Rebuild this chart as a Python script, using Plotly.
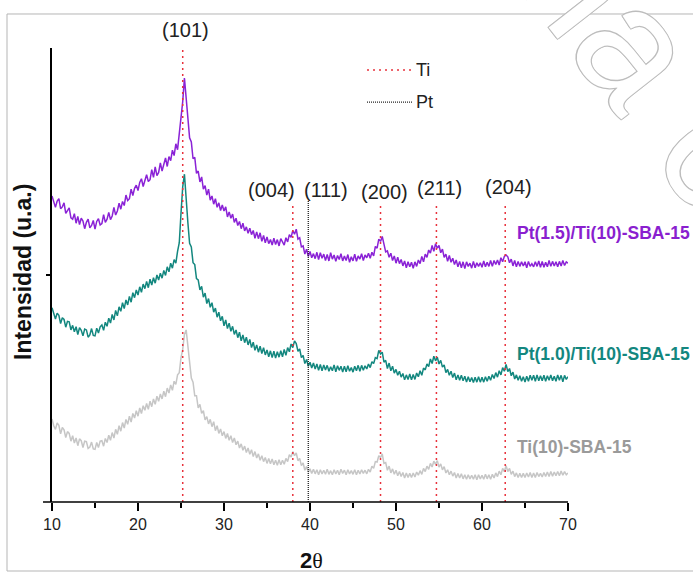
import numpy as np
import plotly.graph_objects as go

# XRD scan: 2-theta from 10 to 70 degrees, 0.2 degree step
ANGLE_START = 10.0
ANGLE_STEP = 0.2

# Intensity (arbitrary units, vertically offset per sample)
pt15_ti10 = [
    67.4, 66.0, 64.9, 66.3, 66.8, 64.6, 65.0, 65.9, 63.6, 64.2,
    64.8, 62.6, 62.3, 63.5, 61.4, 62.9, 61.1, 62.5, 61.9, 60.2,
    61.6, 62.3, 60.4, 60.9, 62.0, 60.1, 61.8, 62.4, 61.0, 61.3,
    63.3, 61.6, 62.3, 63.8, 62.2, 63.0, 64.9, 63.2, 64.1, 65.8,
    64.5, 66.2, 65.3, 67.6, 66.4, 66.8, 68.9, 67.5, 69.1, 69.8,
    68.6, 70.4, 71.2, 69.5, 70.9, 72.1, 70.6, 71.0, 73.2, 71.5,
    73.8, 71.9, 72.6, 74.7, 72.9, 74.4, 75.8, 73.9, 76.1, 75.2,
    77.5, 76.3, 78.9, 77.6, 81.2, 83.6, 88.2, 93.4, 89.0, 85.8,
    80.2, 79.3, 75.6, 75.9, 72.4, 72.9, 70.5, 71.6, 68.9, 69.7,
    67.6, 68.9, 66.5, 67.4, 65.6, 66.8, 64.9, 65.9, 64.2, 65.4,
    64.1, 65.0, 62.8, 63.9, 62.5, 63.4, 61.6, 62.5, 60.9, 61.8,
    60.2, 61.4, 59.7, 60.6, 59.2, 60.3, 58.9, 59.8, 58.1, 59.5,
    58.0, 59.3, 57.4, 58.7, 57.1, 58.4, 56.9, 57.8, 56.6, 58.1,
    56.7, 57.8, 56.4, 58.0, 57.1, 56.6, 58.2, 57.3, 58.9, 58.3,
    59.8, 59.0, 60.1, 57.9, 58.2, 56.2, 56.4, 54.6, 55.7, 54.1,
    55.2, 53.8, 54.7, 53.6, 55.0, 53.4, 54.9, 53.7, 54.6, 53.2,
    54.5, 53.1, 54.9, 53.5, 54.4, 53.0, 54.3, 53.4, 54.7, 53.1,
    54.2, 53.2, 54.5, 52.8, 54.0, 53.1, 54.6, 53.0, 54.2, 53.5,
    54.7, 53.2, 54.4, 53.8, 54.8, 53.7, 55.0, 54.2, 56.3, 55.9,
    57.9, 57.4, 58.5, 56.9, 55.1, 55.3, 53.9, 54.8, 53.2, 54.2,
    52.6, 53.9, 52.5, 53.4, 52.0, 53.1, 51.6, 52.9, 51.8, 52.8,
    51.5, 52.9, 51.9, 53.3, 52.5, 54.1, 52.9, 54.6, 53.9, 55.5,
    54.8, 56.5, 55.2, 56.9, 55.9, 56.5, 54.9, 55.7, 53.9, 54.6,
    53.0, 54.3, 52.8, 53.7, 52.3, 53.3, 51.8, 53.0, 51.6, 52.9,
    51.4, 52.9, 51.9, 52.6, 51.5, 53.0, 51.6, 52.7, 51.9, 52.7,
    51.7, 53.1, 51.8, 52.8, 51.9, 53.2, 51.9, 53.2, 52.3, 53.3,
    52.2, 53.8, 52.9, 54.1, 54.4, 54.0, 52.7, 53.5, 52.0, 53.2,
    51.8, 53.0, 51.9, 52.9, 52.0, 52.9, 51.6, 53.0, 51.9, 52.5,
    51.8, 52.9, 51.9, 53.1, 51.7, 53.0, 51.7, 52.8, 51.8, 53.2,
    51.9, 53.0, 52.0, 52.9, 51.8, 53.0, 52.0, 53.2, 52.1, 52.9,
    52.6,
]

pt10_ti10 = [
    42.8, 41.2, 40.3, 41.6, 41.1, 39.3, 40.6, 40.2, 38.5, 39.8,
    39.7, 37.9, 38.9, 37.5, 38.6, 36.9, 38.4, 37.8, 36.6, 38.1,
    37.9, 36.3, 36.8, 38.2, 36.7, 36.6, 38.3, 37.2, 38.6, 39.0,
    37.8, 39.6, 38.7, 40.5, 39.4, 41.3, 40.1, 42.2, 41.0, 43.0,
    42.0, 43.9, 42.6, 44.5, 43.4, 45.3, 44.0, 46.1, 45.0, 46.7,
    45.6, 47.4, 46.2, 48.0, 47.0, 48.6, 47.2, 49.1, 47.8, 49.4,
    48.2, 50.0, 48.9, 50.4, 49.3, 51.0, 49.9, 51.8, 50.7, 52.6,
    51.5, 53.4, 52.6, 55.2, 57.1, 63.6, 69.4, 72.2, 65.6, 61.5,
    57.0, 56.2, 52.7, 52.3, 49.2, 48.9, 46.7, 47.5, 45.1, 46.0,
    43.7, 44.8, 42.9, 43.9, 41.8, 42.7, 40.7, 41.8, 39.9, 40.9,
    38.8, 40.1, 38.2, 39.4, 37.6, 38.7, 36.9, 37.9, 36.2, 37.4,
    35.5, 36.8, 35.1, 36.3, 34.6, 35.8, 34.0, 35.2, 33.4, 34.6,
    33.0, 34.3, 32.7, 34.0, 32.4, 33.5, 32.0, 33.3, 31.8, 33.2,
    31.7, 33.1, 31.9, 33.3, 32.0, 33.6, 32.3, 34.0, 33.1, 34.8,
    34.0, 35.5, 34.9, 33.2, 33.7, 31.8, 32.3, 30.5, 31.4, 29.9,
    30.8, 29.5, 30.6, 29.3, 30.4, 29.0, 30.3, 28.9, 30.2, 29.1,
    30.1, 28.8, 29.8, 28.9, 30.2, 28.7, 30.0, 29.0, 29.9, 28.6,
    29.9, 28.7, 30.0, 28.8, 29.6, 28.6, 29.9, 28.9, 30.1, 28.8,
    30.1, 29.0, 30.0, 29.3, 30.4, 29.6, 30.9, 30.5, 31.8, 31.6,
    33.4, 32.6, 33.0, 30.8, 31.2, 29.4, 30.6, 28.9, 29.9, 28.4,
    29.2, 27.9, 28.8, 27.5, 28.3, 26.9, 28.0, 27.0, 28.2, 26.9,
    28.1, 27.0, 28.4, 27.6, 28.9, 27.9, 29.5, 29.1, 30.4, 29.8,
    31.5, 30.5, 32.1, 31.1, 31.9, 30.4, 31.2, 29.7, 30.2, 28.5,
    29.2, 27.9, 28.8, 27.4, 28.4, 26.9, 28.0, 26.8, 27.9, 26.7,
    27.7, 26.4, 27.6, 26.5, 27.4, 26.3, 27.5, 26.4, 27.6, 26.4,
    27.5, 26.4, 27.6, 26.6, 27.7, 26.8, 28.1, 27.2, 28.5, 27.5,
    28.9, 28.0, 29.6, 28.8, 30.3, 28.7, 29.4, 27.8, 28.6, 27.1,
    28.0, 26.8, 27.8, 26.6, 27.6, 26.4, 27.7, 26.6, 27.9, 26.8,
    27.9, 26.6, 28.0, 26.7, 27.8, 26.7, 27.9, 26.6, 27.8, 26.8,
    28.0, 26.7, 27.7, 26.6, 28.0, 26.8, 27.9, 26.5, 27.9, 27.0,
    27.6,
]

ti10 = [
    18.3, 16.8, 16.0, 17.4, 16.9, 15.0, 16.4, 15.9, 14.2, 15.5,
    15.1, 13.4, 14.6, 13.0, 14.1, 12.4, 13.9, 13.5, 12.0, 13.4,
    13.3, 11.8, 12.1, 13.2, 11.7, 11.6, 13.1, 12.0, 13.4, 13.5,
    12.3, 14.0, 13.1, 14.7, 13.6, 15.3, 14.1, 16.0, 14.9, 16.8,
    15.6, 17.5, 16.3, 18.2, 17.1, 18.9, 17.6, 19.5, 18.5, 20.1,
    18.9, 20.7, 19.5, 21.2, 20.2, 21.7, 20.4, 22.2, 21.0, 22.7,
    21.5, 23.3, 22.2, 23.8, 22.7, 24.4, 23.2, 25.1, 24.0, 25.8,
    24.6, 26.6, 25.9, 28.0, 28.5, 31.8, 33.6, 36.9, 37.9, 34.0,
    30.8, 27.3, 26.4, 23.4, 23.4, 20.7, 21.5, 19.5, 20.1, 18.1,
    18.8, 17.2, 18.2, 16.6, 17.7, 15.7, 16.8, 15.1, 16.1, 14.6,
    15.5, 14.0, 15.1, 13.6, 14.6, 13.1, 14.1, 12.6, 13.4, 11.9,
    12.8, 11.4, 12.3, 10.9, 11.9, 10.5, 11.5, 10.0, 11.1, 9.7,
    10.6, 9.2, 10.2, 8.9, 9.8, 8.5, 9.6, 8.4, 9.5, 8.2,
    9.2, 8.1, 9.3, 8.2, 9.2, 8.3, 9.6, 8.9, 10.4, 9.9,
    11.1, 10.2, 10.8, 9.1, 9.6, 8.0, 8.6, 7.0, 7.8, 6.6,
    7.3, 6.3, 7.2, 6.2, 7.1, 6.0, 7.1, 6.2, 7.0, 6.1,
    7.2, 6.1, 6.9, 6.0, 7.1, 6.2, 7.0, 6.0, 7.2, 6.3,
    7.0, 6.0, 7.1, 6.2, 6.9, 6.1, 7.1, 6.0, 7.0, 6.2,
    7.1, 6.3, 7.0, 6.2, 7.2, 6.6, 7.9, 7.4, 8.9, 8.8,
    10.2, 9.8, 10.6, 8.5, 8.7, 7.0, 7.9, 6.4, 7.3, 6.1,
    7.0, 5.8, 6.7, 5.6, 6.5, 5.3, 6.4, 5.4, 6.3, 5.4,
    6.4, 5.5, 6.6, 5.9, 6.9, 6.1, 7.4, 6.7, 7.9, 7.2,
    8.5, 7.7, 9.0, 8.3, 9.1, 7.7, 8.4, 7.1, 7.8, 6.4,
    7.1, 6.0, 6.8, 5.7, 6.5, 5.3, 6.3, 5.3, 6.2, 5.1,
    6.0, 5.0, 6.0, 5.1, 5.9, 5.0, 6.0, 4.9, 6.0, 5.1,
    5.9, 5.0, 6.1, 5.1, 6.0, 5.0, 6.1, 5.3, 6.4, 5.6,
    6.8, 6.0, 7.4, 6.7, 8.0, 6.7, 7.4, 6.1, 6.8, 5.6,
    6.4, 5.4, 6.3, 5.4, 6.3, 5.4, 6.4, 5.5, 6.5, 5.4,
    6.4, 5.4, 6.5, 5.6, 6.3, 5.5, 6.5, 5.6, 6.6, 5.6,
    6.7, 5.7, 6.6, 5.8, 6.7, 5.8, 6.8, 5.9, 6.7, 6.0,
    6.4,
]

series_names = ["Pt(1.5)/Ti(10)-SBA-15", "Pt(1.0)/Ti(10)-SBA-15", "Ti(10)-SBA-15"]
series_values = [pt15_ti10, pt10_ti10, ti10]
series_colors = ["#8A22D6", "#13877F", "#C6C6C6"]
label_colors = ["#8A1FCF", "#13877F", "#9A9A9A"]
label_y = [59.3, 32.6, 12.1]

# Reference reflections: anatase TiO2 (red) and Pt (black)
ti_positions = [25.2, 38.0, 48.2, 54.7, 62.7]
ti_line_tops = [100.0, 65.9, 65.9, 65.9, 65.9]
pt_positions = [39.8]
pt_line_tops = [66.5]

hkl_labels = ["(101)", "(004)", "(111)", "(200)", "(211)", "(204)"]
hkl_x = [25.5, 35.5, 41.9, 48.7, 55.1, 63.1]
hkl_y = [104.0, 68.7, 68.7, 68.3, 69.2, 69.4]

FONT = "Arial, 'Liberation Sans', sans-serif"
Y_TOP = 100.0

fig = go.Figure()

for name, vals, color in zip(series_names, series_values, series_colors):
    x = np.round(ANGLE_START + ANGLE_STEP * np.arange(len(vals)), 2)
    fig.add_trace(go.Scatter(x=x, y=vals, mode="lines", name=name,
                             line=dict(color=color, width=1.5),
                             showlegend=False))

for xp, top in zip(ti_positions, ti_line_tops):
    fig.add_trace(go.Scatter(x=[xp, xp], y=[0, top], mode="lines",
                             line=dict(color="#E8323C", width=1.5, dash="2px,4px"),
                             showlegend=False, hoverinfo="skip"))
for xp, top in zip(pt_positions, pt_line_tops):
    fig.add_trace(go.Scatter(x=[xp, xp], y=[0, top], mode="lines",
                             line=dict(color="#222222", width=1.3, dash="1px,1px"),
                             showlegend=False, hoverinfo="skip"))

annotations = []
for txt, xx, yy in zip(hkl_labels, hkl_x, hkl_y):
    # labels above the plotting area are placed in paper units
    if yy > Y_TOP:
        ref, ypos = "paper", yy / Y_TOP
    else:
        ref, ypos = "y", yy
    annotations.append(dict(x=xx, y=ypos, xref="x", yref=ref, text=txt,
                            xanchor="center", yanchor="middle", showarrow=False,
                            font=dict(family=FONT, size=20, color="#222")))

for name, yy, col in zip(series_names, label_y, label_colors):
    annotations.append(dict(x=63.85, y=yy, xref="x", yref="y", text="<b>" + name + "</b>",
                            xanchor="left", yanchor="middle", showarrow=False,
                            font=dict(family=FONT, size=17.5, color=col)))

annotations += [
    # watermark in the top-right corner
    dict(x=1.13, y=1.007, xref="paper", yref="paper", text="ma c", textangle=52,
         xanchor="center", yanchor="middle", showarrow=False,
         font=dict(family=FONT, size=165, color="white",
                   shadow="1px 1px 0 #bdbdbd, -1px -1px 0 #bdbdbd, 1px -1px 0 #bdbdbd, -1px 1px 0 #bdbdbd")),
    # legend for the reference lines
    dict(x=0.702, y=0.9515, xref="paper", yref="paper", text="Ti", xanchor="left",
         yanchor="middle", showarrow=False, font=dict(family=FONT, size=18, color="#222")),
    dict(x=0.702, y=0.881, xref="paper", yref="paper", text="Pt", xanchor="left",
         yanchor="middle", showarrow=False, font=dict(family=FONT, size=18, color="#222")),
    # axis titles
    dict(x=-0.0562, y=0.5066, xref="paper", yref="paper", text="<b>Intensidad (u.a.)</b>",
         textangle=-90, xanchor="center", yanchor="middle", showarrow=False,
         font=dict(family=FONT, size=23, color="#111")),
    dict(x=0.502, y=-0.128, xref="paper", yref="paper",
         text="<b>2</b><span style=\"font-family:'Liberation Serif'\">θ</span>",
         xanchor="center", yanchor="middle", showarrow=False,
         font=dict(family=FONT, size=22, color="#111")),
]

shapes = [
    # outer frame
    dict(type="rect", xref="paper", yref="paper", x0=-0.0872, y0=-0.152, x1=1.26, y1=1.0749,
         line=dict(color="#B5B5B5", width=1), layer="below"),
    # x axis baseline extending slightly left of the y axis
    dict(type="line", xref="paper", yref="paper", x0=-0.0174, x1=1.0, y0=0, y1=0,
         line=dict(color="black", width=1.6)),
    dict(type="line", xref="paper", yref="paper", x0=0.6105, x1=0.6996, y0=0.9515, y1=0.9515,
         line=dict(color="#E8323C", width=1.5, dash="2px,4px")),
    dict(type="line", xref="paper", yref="paper", x0=0.6105, x1=0.6996, y0=0.881, y1=0.881,
         line=dict(color="#222222", width=1.3, dash="1px,1px")),
]

fig.update_layout(
    width=693, height=573,
    margin=dict(l=52, r=125, t=48, b=71),
    paper_bgcolor="white", plot_bgcolor="white",
    annotations=annotations, shapes=shapes,
    xaxis=dict(range=[10, 70], tickvals=[10, 20, 30, 40, 50, 60, 70],
               ticks="outside", ticklen=8, tickwidth=1.5, tickcolor="black",
               minor=dict(ticks="outside", ticklen=5, tickwidth=1.5, tickcolor="black",
                          tickvals=[15, 25, 35, 45, 55, 65]),
               showline=False, showgrid=False, zeroline=False,
               tickfont=dict(family=FONT, size=16, color="#222")),
    yaxis=dict(range=[0, Y_TOP], tickvals=[50], ticktext=[""], ticks="outside",
               ticklen=4, tickwidth=1.5, tickcolor="black",
               showline=True, linecolor="black", linewidth=1.6,
               showgrid=False, zeroline=False),
)

fig.write_html("out.html")
